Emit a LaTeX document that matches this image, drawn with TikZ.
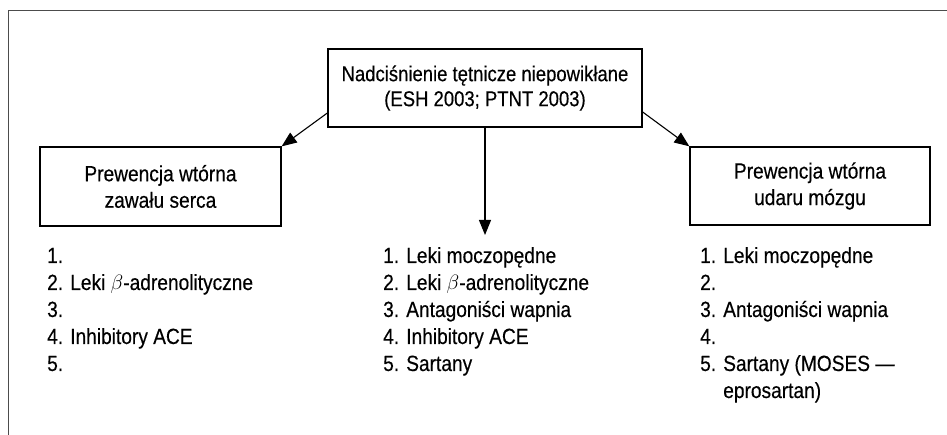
\documentclass[tikz,border=0pt]{standalone}
\usepackage{fontspec}
\setmainfont{Liberation Sans}[FakeStretch=0.87,FakeBold=0.35]
\newfontfamily\titlef{Liberation Sans}[FakeStretch=0.86,FakeBold=0.35]
\usetikzlibrary{arrows.meta}
\begin{document}
\begin{tikzpicture}[x=1pt,y=-1pt,
  box/.style={draw, line width=1.3pt, inner sep=0pt, align=center, font=\fontsize{22}{26.5}\selectfont},
  lst/.style={inner sep=0pt, anchor=base west, font=\fontsize{22}{27}\selectfont},
  arr/.style={line width=1.1pt, -{Triangle[length=15pt,width=12pt]}}]
\useasboundingbox (0,0) rectangle (947,435);
\draw[line width=1pt, black!70] (947,11) -- (8,11) -- (8,435);
\node[box, minimum width=314pt, minimum height=78pt, font=\titlef\fontsize{21.5}{25}\selectfont] (top) at (485,88) {Nadciśnienie tętnicze niepowikłane\\(ESH 2003; PTNT 2003)};
\node[box, minimum width=241pt, minimum height=79pt] (zaw) at (160.5,186.5) {Prewencja wtórna\\zawału serca};
\node[box, minimum width=240pt, minimum height=78pt] (udar) at (810,186) {Prewencja wtórna\\udaru mózgu};
\coordinate (mid) at (485,235);
\draw[arr] (top.south) -- (mid);
\draw[arr] ([yshift=-25pt]top.west) -- (zaw.north east);
\draw[arr] ([yshift=-24pt]top.east) -- (udar.north west);
\node[lst] (l1) at (47,263) {\begin{tabular}[t]{@{}l@{ }l@{}}1.&\\2.&Leki $\beta$-adrenolityczne\\3.&\\4.&Inhibitory ACE\\5.&\end{tabular}};
\node[lst] (l2) at (383,263) {\begin{tabular}[t]{@{}l@{ }l@{}}1.&Leki moczopędne\\2.&Leki $\beta$-adrenolityczne\\3.&Antagoniści wapnia\\4.&Inhibitory ACE\\5.&Sartany\end{tabular}};
\node[lst] (l3) at (700,263) {\begin{tabular}[t]{@{}l@{ }l@{}}1.&Leki moczopędne\\2.&\\3.&Antagoniści wapnia\\4.&\\5.&Sartany (MOSES —\\&eprosartan)\end{tabular}};
\end{tikzpicture}
\end{document}
